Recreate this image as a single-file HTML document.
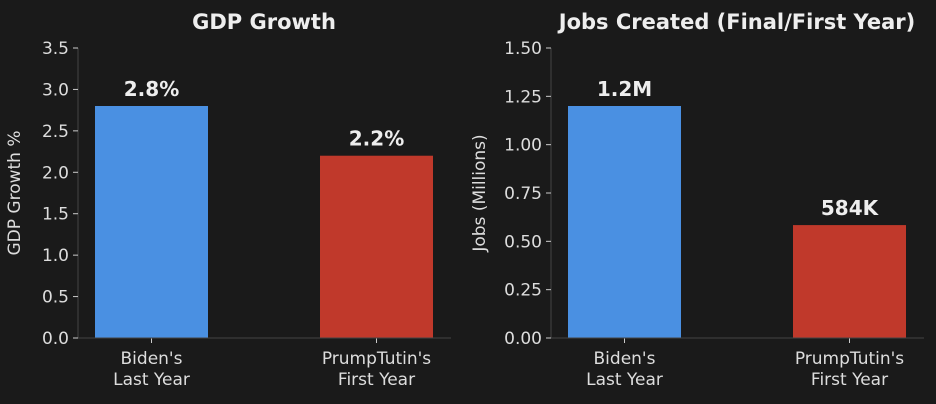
<!DOCTYPE html>
<html><head><meta charset="utf-8"><style>
html,body{margin:0;padding:0;background:#1a1a1a;}
svg{display:block;font-family:"DejaVu Sans","Liberation Sans",sans-serif;}
</style></head><body>
<svg id="c" width="936" height="404" viewBox="0 0 936 404">
<rect width="936" height="404" fill="#1a1a1a"/>
</svg>
<script>
const categories = ["Biden's|Last Year", "PrumpTutin's|First Year"];
const gdpValues = [2.8, 2.2];
const gdpLabels = ["2.8%", "2.2%"];
const gdpTicks = [0, 0.5, 1.0, 1.5, 2.0, 2.5, 3.0, 3.5];
const jobsValues = [1.2, 0.584];
const jobsLabels = ["1.2M", "584K"];
const jobsTicks = [0, 0.25, 0.5, 0.75, 1.0, 1.25, 1.5];
const colors = ["#4a90e2", "#c0392b"];

const svg = document.getElementById('c');
const NS = 'http://www.w3.org/2000/svg';
function mk(tag, attrs, parent) {
  const e = document.createElementNS(NS, tag);
  for (const k in attrs) e.setAttribute(k, attrs[k]);
  (parent || svg).appendChild(e);
  return e;
}
function panel(p) {
  const g = mk('g', {});
  
  
  const top = 48, bot = 338;
  const y = v => bot - (v / p.max) * (bot - top);
  const step = 225, bw = 113;
  const cx = i => p.x0 + 73.5 + i * step;
  const sl = mk('line', {x1: p.x0, x2: p.x0, y1: top, y2: bot, stroke: '#444', 'stroke-width': 1}, g);
  
  
  p.values.forEach((v, i) => {
    const r = mk('rect', {x: cx(i) - bw / 2, y: y(v), width: bw, height: bot - y(v), fill: colors[i]}, g);
    
    
    const t = mk('text', {x: cx(i), y: y(v) - 10, 'text-anchor': 'middle', fill: '#eeeeee', 'font-size': 20, 'font-weight': 'bold'}, g);
    t.textContent = p.labels[i];
    
    
    mk('line', {x1: cx(i), x2: cx(i), y1: bot, y2: bot + 5, stroke: '#ccc'}, g);
    const parts = categories[i].split('|');
    parts.forEach((s, j) => {
      const ct = mk('text', {x: cx(i), y: bot + 26 + j * 21, 'text-anchor': 'middle', fill: '#dddddd', 'font-size': 17}, g);
      ct.textContent = s;
      
      
    });
  });
  const sb = mk('line', {x1: p.x0, x2: p.x0 + 373, y1: bot, y2: bot, stroke: '#444', 'stroke-width': 1}, g);
  
  
  p.ticks.forEach(v => {
    mk('line', {x1: p.x0 - 5, x2: p.x0, y1: y(v), y2: y(v), stroke: '#ccc'}, g);
    const t = mk('text', {x: p.x0 - 9, y: y(v) + 6, 'text-anchor': 'end', fill: '#dddddd', 'font-size': 17}, g);
    t.textContent = v.toFixed(p.dec);
    
    
  });
  const yt = mk('text', {x: 0, y: 0, transform: `translate(${p.x0 - p.ytOff},${(top + bot) / 2}) rotate(-90)`, 'text-anchor': 'middle', fill: '#dddddd', 'font-size': 17}, g);
  yt.textContent = p.ytitle;
  
  
  const tt = mk('text', {x: p.x0 + 186, y: 29, 'text-anchor': 'middle', fill: '#eeeeee', 'font-size': 21, 'font-weight': 'bold'}, g);
  tt.textContent = p.title;
  
  
}
panel({name: 'gdp-panel', x0: 78, max: 3.5, values: gdpValues, labels: gdpLabels, ticks: gdpTicks, dec: 1, ytitle: 'GDP Growth %', ytOff: 58, title: 'GDP Growth'});
panel({name: 'jobs-panel', x0: 551, max: 1.5, values: jobsValues, labels: jobsLabels, ticks: jobsTicks, dec: 2, ytitle: 'Jobs (Millions)', ytOff: 66, title: 'Jobs Created (Final/First Year)'});
</script>
</body></html>
